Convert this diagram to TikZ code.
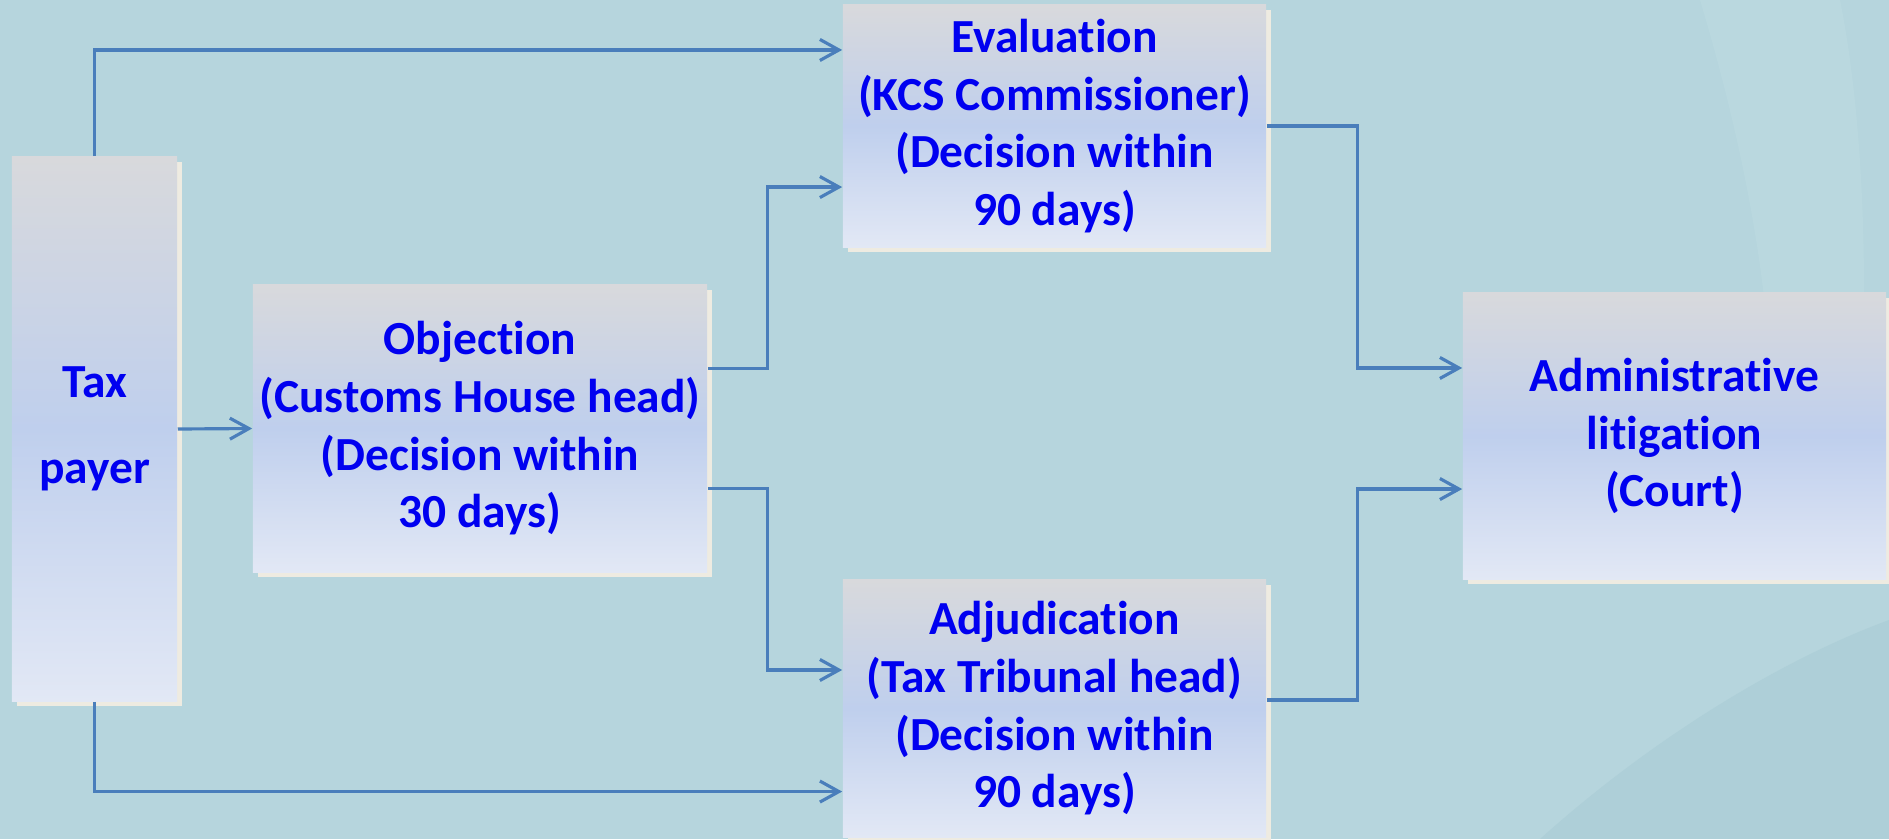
\documentclass[tikz,border=0pt]{standalone}
\usepackage{fontspec}
\setmainfont{Carlito}[Ligatures={NoCommon}]
\usetikzlibrary{arrows.meta,shadows}

\definecolor{bgteal}{RGB}{182,213,221}
\definecolor{bgdark}{RGB}{162,199,209}
\definecolor{bglight}{RGB}{190,220,226}
\definecolor{boxtop}{RGB}{216,217,220}
\definecolor{boxmid}{RGB}{191,207,237}
\definecolor{boxbottom}{RGB}{226,232,245}
\definecolor{boxshadow}{RGB}{238,235,225}
\definecolor{textblue}{RGB}{0,0,240}
\definecolor{linkblue}{RGB}{74,126,187}

\tikzset{
  box/.style={rectangle, inner sep=0pt, top color=boxtop, bottom color=boxbottom,
    middle color=boxmid,
    general shadow={fill=boxshadow, shadow xshift=0.05cm, shadow yshift=-0.05cm},
    text=textblue, font=\fontsize{13.5}{16.4}\selectfont\bfseries, align=center},
  link/.style={draw=linkblue, line width=0.9pt}
}

\begin{document}
\begin{tikzpicture}[x=0.01cm, y=-0.01cm, >={Straight Barb[length=1.9mm,width=2.1mm]}]
            \useasboundingbox (0,0) rectangle (1889,839);
            % background
            \fill[bgteal] (0,0) rectangle (1889,839);
            \fill[bglight, opacity=0.5] (1700,0) .. controls (1760,200) and (1790,400) .. (1760,560) -- (1860,420) .. controls (1870,250) and (1860,100) .. (1840,0) -- cycle;
            \fill[bgdark, opacity=0.4] (1540,839) .. controls (1650,740) and (1780,660) .. (1889,620) -- (1889,839) -- cycle;

            \node[box, minimum width=1.65cm, minimum height=5.44cm] (tax) at (94.5,429) {Tax\\[8pt]payer};
            \node[box, minimum width=4.54cm, minimum height=2.87cm] (obj) at (480,428.5) {Objection\\(Customs House head)\\(Decision within\\30 days)};
            \node[box, minimum width=4.23cm, minimum height=2.42cm] (eval) at (1054.5,126) {Evaluation\\(KCS Commissioner)\\(Decision within\\90 days)};
            \node[box, minimum width=4.23cm, minimum height=2.57cm] (adj) at (1054.5,708.5) {Adjudication\\(Tax Tribunal head)\\(Decision within\\90 days)};
            \node[box, minimum width=4.23cm, minimum height=2.86cm] (court) at (1674.5,436) {Administrative\\litigation\\(Court)};

            \draw[link, ->] (tax.north) |- ([yshift=0.76cm]eval.west);
            \draw[link, ->] (tax.south) |- ([yshift=-0.83cm]adj.west);
            \draw[link, ->] (tax.east) -- (obj.west);
            \draw[link, ->] ([yshift=0.6cm]obj.east) -- ++(60,0) |- ([yshift=-0.61cm]eval.west);
            \draw[link, ->] ([yshift=-0.6cm]obj.east) -- ++(60,0) |- ([yshift=0.385cm]adj.west);
            \draw[link, ->] (eval.east) -- ++(91,0) |- ([yshift=0.68cm]court.west);
            \draw[link, ->] ([yshift=0.085cm]adj.east) -- ++(91,0) |- ([yshift=-0.53cm]court.west);
        \end{tikzpicture}
\end{document}
